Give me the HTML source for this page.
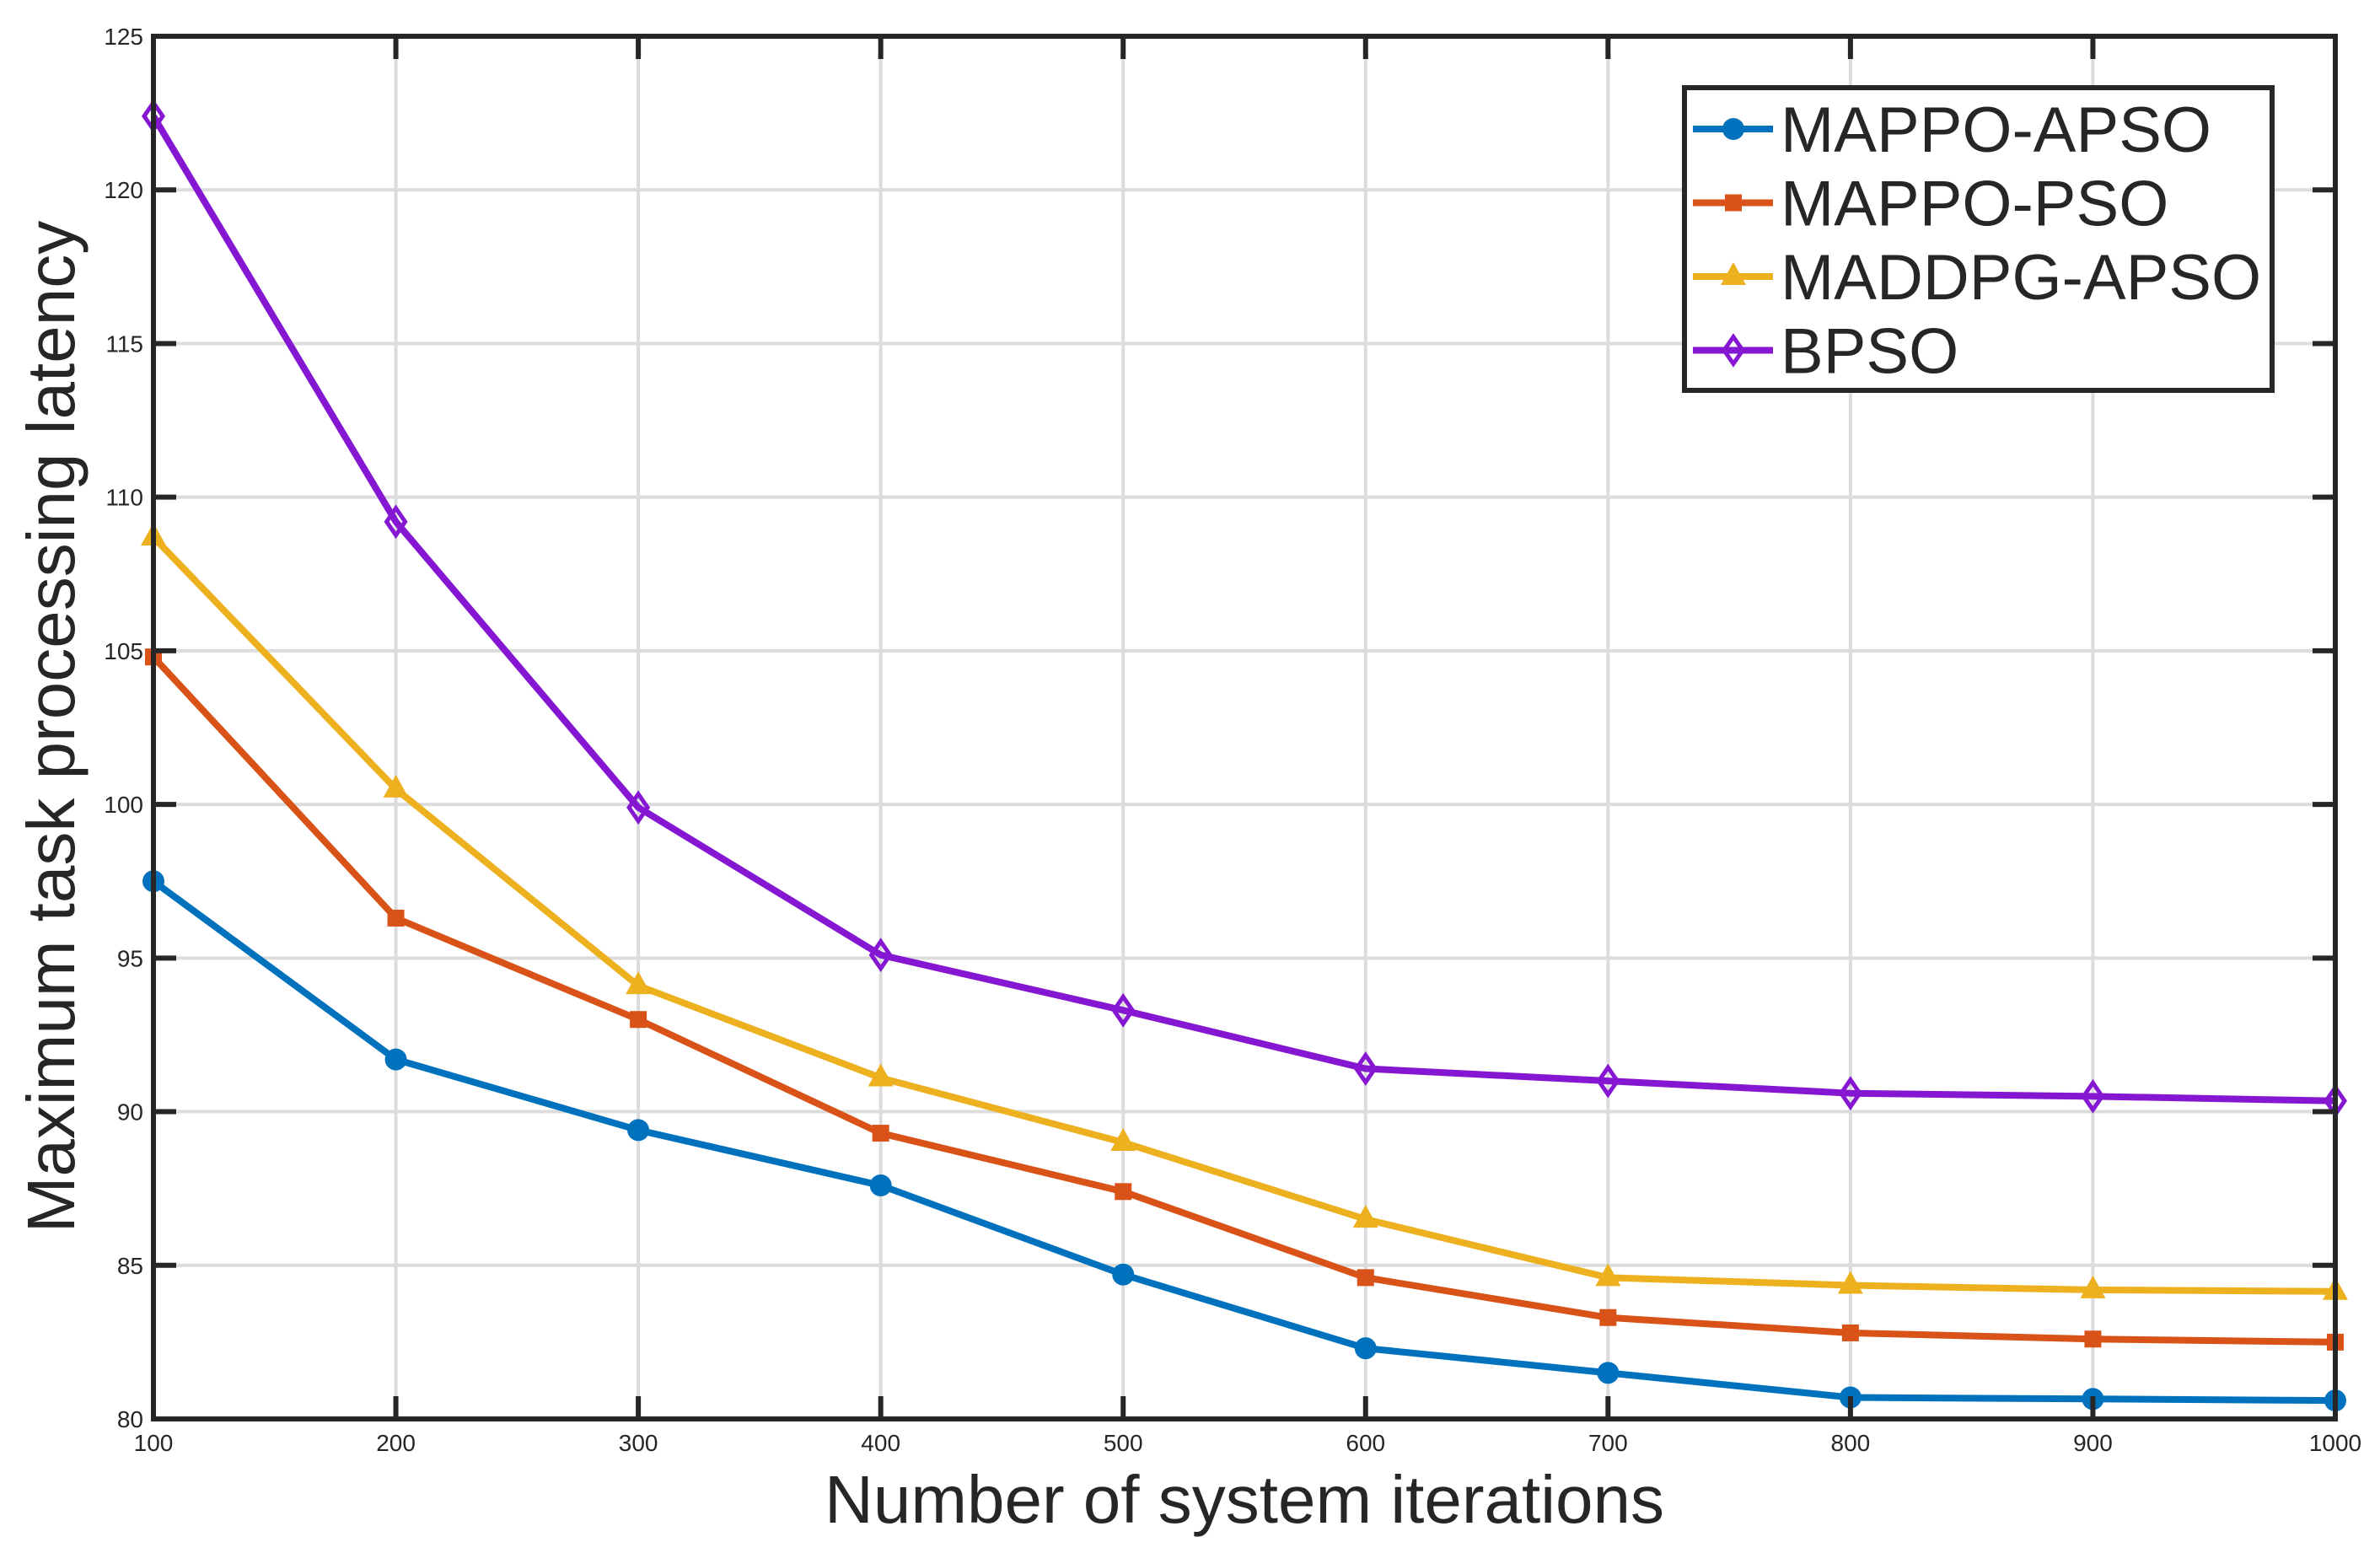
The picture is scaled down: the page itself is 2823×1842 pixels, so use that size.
<!DOCTYPE html>
<html><head><meta charset="utf-8"><style>
html,body{margin:0;padding:0;background:#fff}
svg{display:block}
text{font-family:"Liberation Sans",Arial,sans-serif;fill:#262626}
</style></head><body>
<svg id="chart" width="2823" height="1842" viewBox="0 0 2823 1842" xmlns="http://www.w3.org/2000/svg">
<g id="grid"></g>
<g id="series"></g>
<g id="axes"></g>
<text x="1476" y="1806" font-size="80" text-anchor="middle">Number of system iterations</text>
<text x="0" y="0" font-size="80" text-anchor="middle" transform="translate(88,862) rotate(-90)">Maximum task processing latency</text>
<g id="legend"></g>
</svg>
<script>
const iterations=[100,200,300,400,500,600,700,800,900,1000];
const mappoApso=[97.5,91.7,89.4,87.6,84.7,82.3,81.5,80.7,80.65,80.6];
const mappoPso=[104.8,96.3,93.0,89.3,87.4,84.6,83.3,82.8,82.6,82.5];
const maddpgApso=[108.7,100.5,94.1,91.1,89.0,86.5,84.6,84.35,84.2,84.15];
const bpso=[122.4,109.2,99.9,95.1,93.3,91.4,91.0,90.6,90.5,90.35];
const xTicks=[100,200,300,400,500,600,700,800,900,1000];
const yTicks=[80,85,90,95,100,105,110,115,120,125];
const seriesNames=["MAPPO-APSO","MAPPO-PSO","MADDPG-APSO","BPSO"];

const L=182,R=2770,T=43,B=1683;
const NS="http://www.w3.org/2000/svg";
const xs=v=>L+(v-100)/900*(R-L);
const ys=v=>B-(v-80)/45*(B-T);
function mk(tag,attrs,parent){const e=document.createElementNS(NS,tag);for(const k in attrs)e.setAttribute(k,attrs[k]);parent.appendChild(e);return e;}
const grid=document.getElementById('grid'),axes=document.getElementById('axes'),ser=document.getElementById('series'),leg=document.getElementById('legend');
xTicks.forEach(t=>{const x=xs(t);
 const g=mk('line',{x1:x,x2:x,y1:T,y2:B,stroke:'#dcdcdc','stroke-width':4},grid);
 
 const a=mk('line',{x1:x,x2:x,y1:B,y2:B-27,stroke:'#262626','stroke-width':6},axes);
 
 const b=mk('line',{x1:x,x2:x,y1:T,y2:T+27,stroke:'#262626','stroke-width':6},axes);
 
 const tx=mk('text',{x:x,y:B+38,'font-size':28,'text-anchor':'middle'},axes);tx.textContent=t;
 
});
yTicks.forEach(t=>{const y=ys(t);
 const g=mk('line',{x1:L,x2:R,y1:y,y2:y,stroke:'#dcdcdc','stroke-width':4},grid);
 
 const a=mk('line',{x1:L,x2:L+27,y1:y,y2:y,stroke:'#262626','stroke-width':6},axes);
 
 const b=mk('line',{x1:R,x2:R-27,y1:y,y2:y,stroke:'#262626','stroke-width':6},axes);
 
 const tx=mk('text',{x:L-12,y:y+10,'font-size':28,'text-anchor':'end'},axes);tx.textContent=t;
 
});
const frame=mk('rect',{x:L,y:T,width:R-L,height:B-T,fill:'none',stroke:'#262626','stroke-width':6},axes);


const colors=['#0072BD','#D95319','#EDB120','#8517D2'];
const markers=['circle','square','triangle','diamond'];
const data=[mappoApso,mappoPso,maddpgApso,bpso];
function marker(type,x,y,c,p,s){
 if(type==='circle')return mk('circle',{cx:x,cy:y,r:13*s,fill:c},p);
 if(type==='square')return mk('rect',{x:x-10*s,y:y-10*s,width:20*s,height:20*s,fill:c},p);
 if(type==='triangle')return mk('polygon',{points:`${x},${y-17*s} ${x+15*s},${y+10*s} ${x-15*s},${y+10*s}`,fill:c},p);
 return mk('polygon',{points:`${x},${y-16*s} ${x+11*s},${y} ${x},${y+16*s} ${x-11*s},${y}`,fill:'none',stroke:c,'stroke-width':5},p);
}
data.forEach((d,i)=>{
 const g=mk('g',{},ser);
 
 
 const pts=d.map((v,j)=>xs(iterations[j])+','+ys(v)).join(' ');
 const pl=mk('polyline',{points:pts,fill:'none',stroke:colors[i],'stroke-width':8,'stroke-linejoin':'round'},g);
 
 
 d.forEach((v,j)=>{const m=marker(markers[i],xs(iterations[j]),ys(v),colors[i],g,1);
  
  });
});
const lb=mk('rect',{x:1998,y:104,width:697,height:359,fill:'#fff',stroke:'#262626','stroke-width':6},leg);

seriesNames.forEach((n,i)=>{const cy=153+i*87.5;
 const g=mk('g',{},leg);
 
 
 mk('line',{x1:2008,x2:2103,y1:cy,y2:cy,stroke:colors[i],'stroke-width':8},g);
 marker(markers[i],2056,cy,colors[i],g,1);
 const t=mk('text',{x:2112,y:cy+27,'font-size':76},g);t.textContent=n;
 
});
</script>
</body></html>
